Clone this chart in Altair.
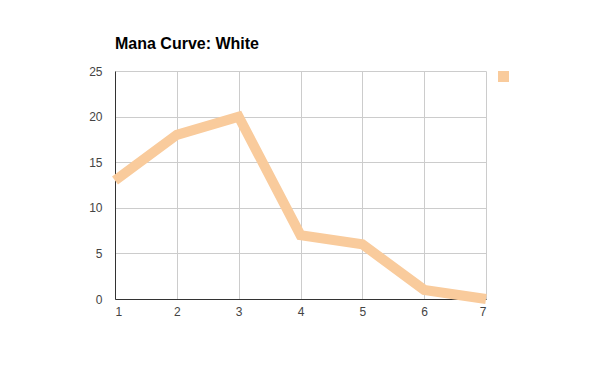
import altair as alt
import pandas as pd

cmc = [1, 2, 3, 4, 5, 6, 7]
counts = [13, 18, 20, 7, 6, 1, 0]
series = ["White"] * len(cmc)

df = pd.DataFrame({"cmc": cmc, "count": counts, "series": series})

chart = alt.Chart(df).mark_line(strokeWidth=10, strokeJoin="miter", strokeCap="butt").encode(
    x=alt.X("cmc:Q", scale=alt.Scale(domain=[1, 7], nice=False, zero=False),
            axis=alt.Axis(values=cmc, title=None, format="d", labelPadding=7, ticks=False,
                          domainColor="#333333", gridColor="#cccccc", labelColor="#444444",
                          labelFontSize=12, labelFont="Liberation Sans")),
    y=alt.Y("count:Q", scale=alt.Scale(domain=[0, 25], nice=False),
            axis=alt.Axis(values=[0, 5, 10, 15, 20, 25], title=None, labelPadding=13, ticks=False,
                          domainColor="#333333", gridColor="#cccccc", labelColor="#444444",
                          labelFontSize=12, labelFont="Liberation Sans")),
    color=alt.Color("series:N", scale=alt.Scale(range=["#f9cb9c"]),
                    legend=alt.Legend(title=None, symbolType="square", symbolSize=121,
                                      symbolStrokeWidth=0, symbolFillColor="#f9cb9c",
                                      labelExpr="''", orient="none", legendX=383, legendY=0,
                                      padding=0)),
).properties(
    width=371,
    height=228,
    title=alt.Title("Mana Curve: White", anchor="start", frame="group", fontSize=16,
                    font="Liberation Sans", fontWeight="bold", color="#000000", offset=13),
    autosize=alt.AutoSizeParams(type="none"),
    padding={"left": 107, "top": 63, "right": 80, "bottom": 50},
).configure_view(stroke=None)

chart.save("out.html", embed_options={"renderer": "svg", "actions": False})
